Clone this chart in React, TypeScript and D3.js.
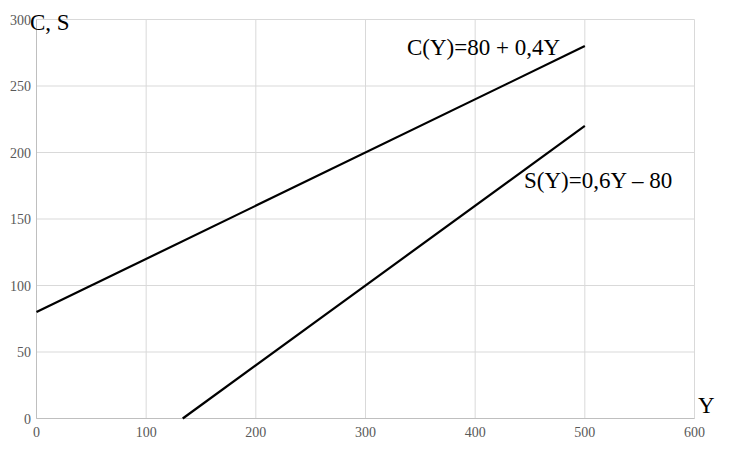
import React from "react";
import * as d3 from "d3";

const xTicks = [0, 100, 200, 300, 400, 500, 600];
const yTicks = [0, 50, 100, 150, 200, 250, 300];
const consumptionY = [0, 500];
const consumptionC = [80, 280];
const savingY = [133.33, 500];
const savingS = [0, 220];

const W = 751;
const H = 452;

export default function App() {
  const x = d3.scaleLinear().domain([0, 600]).range([36.5, 694.5]);
  const y = d3.scaleLinear().domain([0, 300]).range([418.5, 19.5]);
  const line = d3
    .line<[number, number]>()
    .x((d) => x(d[0]))
    .y((d) => y(d[1]));
  const cPts = consumptionY.map((v, i) => [v, consumptionC[i]] as [number, number]);
  const sPts = savingY.map((v, i) => [v, savingS[i]] as [number, number]);
  const serif = "'Liberation Serif', 'Times New Roman', serif";
  return (
    <svg
      width={W}
      height={H}
      style={{ position: "absolute", left: 0, top: 0, background: "#fff" }}
    >
      {xTicks.map((t) => (
        <line key={"gx" + t} x1={x(t)} x2={x(t)} y1={y(300)} y2={y(0)} stroke="#d9d9d9" strokeWidth={1} />
      ))}
      {yTicks.map((t) => (
        <line key={"gy" + t} x1={x(0)} x2={x(600)} y1={y(t)} y2={y(t)} stroke="#d9d9d9" strokeWidth={1} />
      ))}
      <line x1={x(0)} x2={x(600)} y1={y(0)} y2={y(0)} stroke="#bfbfbf" strokeWidth={1} />
      <line x1={x(0)} x2={x(0)} y1={y(300)} y2={y(0)} stroke="#bfbfbf" strokeWidth={1} />
      {xTicks.map((t) => (
        <text key={"tx" + t} x={x(t)} y={437} textAnchor="middle" fontFamily={serif} fontSize={14} fill="#595959">
          {t}
        </text>
      ))}
      {yTicks.map((t) => (
        <text key={"ty" + t} x={31} y={y(t) + 5} textAnchor="end" fontFamily={serif} fontSize={14} fill="#595959">
          {t}
        </text>
      ))}
      <path d={line(cPts) || ""} fill="none" stroke="#000" strokeWidth={2.2} />
      <path d={line(sPts) || ""} fill="none" stroke="#000" strokeWidth={2.2} />
      <text x={30} y={30} fontFamily={serif} fontSize={23} fill="#000">C, S</text>
      <text x={698} y={413} fontFamily={serif} fontSize={23} fill="#000">Y</text>
      <text x={407} y={55} fontFamily={serif} fontSize={23} fill="#000">C(Y)=80 + 0,4Y</text>
      <text x={524} y={188} fontFamily={serif} fontSize={23} fill="#000">S(Y)=0,6Y – 80</text>
    </svg>
  );
}
